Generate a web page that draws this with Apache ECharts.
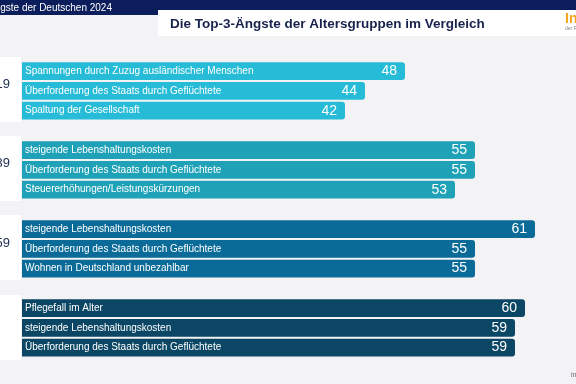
<!DOCTYPE html>
<html><head><meta charset="utf-8">
<script src="https://cdn.jsdelivr.net/npm/echarts@6/dist/echarts.min.js"></script>
<style>html,body{margin:0;padding:0;background:#f3f3f5}#c{width:576px;height:384px}</style>
</head><body><div id="c"></div>
<script>
// Data
const groupLabels = ['19', '39', '59', ''];
const groupItems = [
  ['Spannungen durch Zuzug ausländischer Menschen', 'Überforderung des Staats durch Geflüchtete', 'Spaltung der Gesellschaft'],
  ['steigende Lebenshaltungskosten', 'Überforderung des Staats durch Geflüchtete', 'Steuererhöhungen/Leistungskürzungen'],
  ['steigende Lebenshaltungskosten', 'Überforderung des Staats durch Geflüchtete', 'Wohnen in Deutschland unbezahlbar'],
  ['Pflegefall im Alter', 'steigende Lebenshaltungskosten', 'Überforderung des Staats durch Geflüchtete']
];
const groupValues = [
  [48, 44, 42],
  [55, 55, 53],
  [61, 55, 55],
  [60, 59, 59]
];
const groupColors = ['#26bcd7', '#1fa2b7', '#0a6b98', '#0b4664'];

// build rows (with an empty spacer row between groups)
const cats = [], names = [], vals = [], cols = [];
groupItems.forEach((items, g) => {
  items.forEach((n, i) => {
    cats.push(String(cats.length));
    names.push(n);
    vals.push(groupValues[g][i]);
    cols.push(groupColors[g]);
  });
  if (g < groupItems.length - 1) {
    cats.push(String(cats.length)); names.push(''); vals.push(null); cols.push('transparent');
  }
});

const chart = echarts.init(document.getElementById('c'));
const font = 'Liberation Sans, Arial, sans-serif';
chart.setOption({
  backgroundColor: '#f3f3f5',
  animation: false,
  grid: { left: 22, right: 0, top: 61.3, bottom: 26.5 },
  xAxis: { type: 'value', min: 9.7, max: 65.1, show: false },
  yAxis: { type: 'category', data: cats, inverse: true, show: false },
  series: [
    {
      type: 'bar', barWidth: 17.6, z: 2,
      data: vals.map((v, i) => v == null ? null : ({ value: v, itemStyle: { color: cols[i], borderRadius: [0, 3, 3, 0] } })),
      label: { show: true, position: 'insideRight', distance: 8, color: '#ffffff', fontSize: 14, fontFamily: font,
        formatter: p => p.value == null ? '' : String(p.value) }
    },
    {
      type: 'bar', barWidth: 17.6, barGap: '-100%', z: 3,
      data: vals.map(v => v),
      itemStyle: { color: 'rgba(0,0,0,0)' },
      label: { show: true, position: 'insideLeft', distance: 3, color: '#ffffff', fontSize: 10, fontFamily: font,
        formatter: p => names[p.dataIndex] }
    }
  ],
  graphic: [
    { type: 'rect', shape: { x: 0, y: 0, width: 576, height: 10 }, style: { fill: '#0b1d5a' }, z: 10 },
    { type: 'rect', shape: { x: 0, y: 0, width: 158, height: 15 }, style: { fill: '#0b1d5a' }, z: 10 },
    { type: 'text', x: -12, y: 8, style: { text: 'Ängste der Deutschen 2024', fill: '#ffffff', font: '10px ' + font, textVerticalAlign: 'middle' }, z: 11 },
    { type: 'rect', shape: { x: 158, y: 10, width: 418, height: 26 }, style: { fill: '#ffffff' }, z: 10 },
    { type: 'text', x: 170, y: 24, style: { text: 'Die Top-3-Ängste der Altersgruppen im Vergleich', fill: '#17224d', font: 'bold 13.5px ' + font, textVerticalAlign: 'middle' }, z: 11 },
    { type: 'text', x: 565, y: 19, style: { text: 'Infocenter', fill: '#f3a41b', font: 'bold 14px ' + font, textVerticalAlign: 'middle' }, z: 11 },
    { type: 'text', x: 565, y: 29, style: { text: 'der R+V Versicherung', fill: '#888888', font: '5px ' + font, textVerticalAlign: 'middle' }, z: 11 },
    { type: 'text', x: 571, y: 375, style: { text: 'infocenter', fill: '#666666', font: '7px ' + font, textVerticalAlign: 'middle' }, z: 11 },
    { type: 'rect', shape: { x: 0, y: 57, width: 21, height: 65 }, style: { fill: '#ffffff' }, z: 10 },
    { type: 'rect', shape: { x: 0, y: 136, width: 21, height: 65 }, style: { fill: '#ffffff' }, z: 10 },
    { type: 'rect', shape: { x: 0, y: 215, width: 21, height: 65 }, style: { fill: '#ffffff' }, z: 10 },
    { type: 'rect', shape: { x: 0, y: 295, width: 21, height: 65 }, style: { fill: '#ffffff' }, z: 10 },
    { type: 'text', x: 10, y: 84, style: { text: groupLabels[0], fill: '#1b2a4a', font: '13px ' + font, textAlign: 'right', textVerticalAlign: 'middle' }, z: 11 },
    { type: 'text', x: 10, y: 163, style: { text: groupLabels[1], fill: '#1b2a4a', font: '13px ' + font, textAlign: 'right', textVerticalAlign: 'middle' }, z: 11 },
    { type: 'text', x: 10, y: 243, style: { text: groupLabels[2], fill: '#1b2a4a', font: '13px ' + font, textAlign: 'right', textVerticalAlign: 'middle' }, z: 11 },
    { type: 'text', x: 10, y: 322, style: { text: groupLabels[3], fill: '#1b2a4a', font: '13px ' + font, textAlign: 'right', textVerticalAlign: 'middle' }, z: 11 }
  ]
});
</script></body></html>
